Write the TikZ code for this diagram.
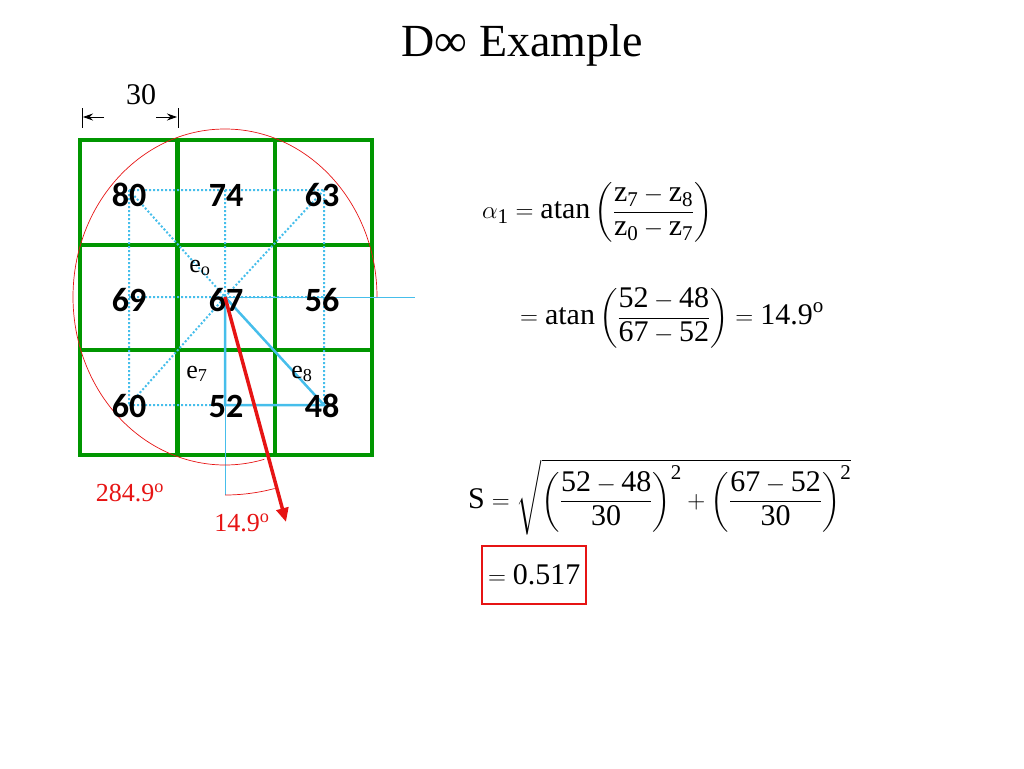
\documentclass[tikz,border=0pt]{standalone}
\usepackage{amsmath}
\usepackage{fontspec}
\setmainfont{Liberation Serif}
\newfontfamily\numfont{Carlito}
\usetikzlibrary{arrows.meta}
\definecolor{grn}{RGB}{0,150,0}
\definecolor{cy}{RGB}{70,190,235}
\definecolor{rd}{RGB}{230,20,20}
\newcommand{\tx}[1]{\text{#1}}
\begin{document}
\begin{tikzpicture}[x=1pt,y=-1pt,
  cell/.style={draw=grn,line width=3.5pt},
  num/.style={font=\numfont\bfseries\fontsize{34}{34}\selectfont,inner sep=0pt},
  dots/.style={cy,dotted,line width=2pt},
  thk/.style={cy,line width=2.5pt},
  thn/.style={cy,line width=1pt},
  lab/.style={font=\fontsize{26}{26}\selectfont,inner sep=0pt},
  eq/.style={font=\fontsize{30}{30}\selectfont,inner sep=0pt,anchor=west}]
\useasboundingbox (0,0) rectangle (1024,768);
\node[font=\fontsize{46}{46}\selectfont] (title) at (522,45) {D∞ Example};
% grid
\foreach \x in {80,178,275}{\foreach \y in {140,245,350}{
  \draw[cell] (\x,\y) rectangle ++(97,105);}}
% centers
\coordinate (c11) at (129,190); \coordinate (c12) at (225,190); \coordinate (c13) at (324,190);
\coordinate (c21) at (129,297); \coordinate (c22) at (225,297); \coordinate (c23) at (324,297);
\coordinate (c31) at (129,405); \coordinate (c32) at (225,405); \coordinate (c33) at (324,405);
\coordinate (hr) at (415,297); \coordinate (vd) at (225,495);
\draw[dots] (c11)--(c12)--(c13) (c21)--(c22)--(c23) (c31)--(c32)
  (c11)--(c21)--(c31) (c12)--(c22) (c13)--(c23)--(c33)
  (c11)--(c22) (c13)--(c22)--(c31);
\draw[thn] (c22)--(hr) (c22)--(vd);
\draw[thk] (c22)--(c32)--(c33)--cycle;
% red arc
\draw[rd,line width=0.7pt] (377,297) arc[start angle=0,end angle=-285,x radius=152,y radius=168];
\draw[rd,line width=0.7pt] (vd) arc[start angle=90,end angle=75.1,radius=193];
% numbers
\node[num] (n80) at (129,195) {80}; \node[num] (n74) at (226,195) {74}; \node[num] (n63) at (322,195) {63};
\node[num] (n69) at (129,300) {69}; \node[num] (n67) at (226,300) {67}; \node[num] (n56) at (322,300) {56};
\node[num] (n60) at (129,406) {60}; \node[num] (n52) at (226,406) {52}; \node[num] (n48) at (322,406) {48};
\node[lab] (eo) at (200,268) {e$_{\tx{o}}$};
\node[lab] (e7) at (197,374) {e$_{\tx{7}}$};
\node[lab] (e8) at (302,374) {e$_{\tx{8}}$};
% arrow
\coordinate (ae) at (286,522);
\draw[rd,line width=3.5pt,-{Triangle[length=14pt,width=12pt]}] (c22)--(ae);
\node[lab,text=rd] (a1) at (130,493) {284.9$^{\tx{o}}$};
\node[lab,text=rd] (a2) at (242,523) {14.9$^{\tx{o}}$};
% dimension
\node[lab,font=\fontsize{30}{30}\selectfont] (d30) at (141,95) {30};
\coordinate (t1a) at (82,108); \coordinate (t1b) at (82,128);
\coordinate (t2a) at (178,108); \coordinate (t2b) at (178,128);
\draw[line width=0.8pt] (t1a)--(t1b) (t2a)--(t2b);
\coordinate (l1) at (104,117); \coordinate (l2) at (83,117);
\coordinate (r1) at (156,117); \coordinate (r2) at (177,117);
\draw[line width=0.8pt,-{Stealth[length=10pt,width=7pt]}] (l1)--(l2);
\draw[line width=0.8pt,-{Stealth[length=10pt,width=7pt]}] (r1)--(r2);
% equations
\node[eq] (eq1) at (482,212) {$\alpha_{\tx{1}}=\tx{atan}\left(\dfrac{\tx{z}_{\tx{7}}-\tx{z}_{\tx{8}}}{\tx{z}_{\tx{0}}-\tx{z}_{\tx{7}}}\right)$};
\node[eq] (eq2) at (520,318) {$=\tx{atan}\left(\dfrac{\tx{52}-\tx{48}}{\tx{67}-\tx{52}}\right)=\tx{14.9}^{\tx{o}}$};
\node[eq] (eq3) at (468,497) {$\tx{S}=\sqrt{\left(\dfrac{\tx{52}-\tx{48}}{\tx{30}}\right)^{\tx{2}}+\left(\dfrac{\tx{67}-\tx{52}}{\tx{30}}\right)^{\tx{2}}}$};
\node[eq,draw=rd,line width=2pt,inner sep=6pt,minimum height=58pt] (res) at (481,575) {$=\tx{0.517}$};
\end{tikzpicture}
\end{document}
